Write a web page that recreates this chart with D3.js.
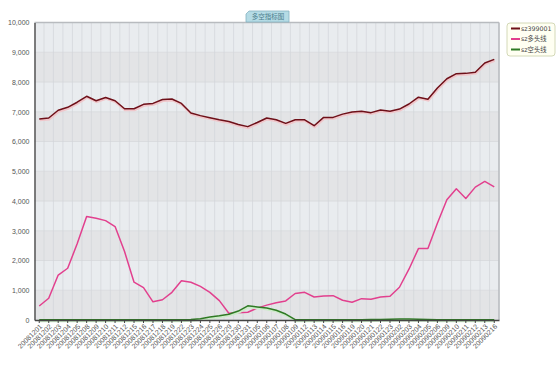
<!DOCTYPE html>
<html>
<head>
<meta charset="utf-8">
<script src="https://cdn.jsdelivr.net/npm/d3@7"></script>
<style>
  body { margin: 0; background: #fff; }
  svg { display: block; font-family: "DejaVu Sans", "Noto Sans CJK SC", sans-serif; }
</style>
</head>
<body>
<svg id="chart" width="560" height="369"></svg>
<script>
var dates = ['20081201','20081202','20081203','20081204','20081205','20081208','20081209','20081210',
    '20081211','20081212','20081215','20081216','20081217','20081218','20081219','20081222','20081223',
    '20081224','20081225','20081226','20081229','20081230','20081231','20090105','20090106','20090107',
    '20090108','20090109','20090112','20090113','20090114','20090115','20090116','20090119','20090120',
    '20090121','20090122','20090123','20090202','20090203','20090204','20090205','20090206','20090209',
    '20090210','20090211','20090212','20090213','20090216'];

var indexLine = [6760, 6790, 7050, 7150, 7320, 7520, 7370, 7480, 7370, 7100, 7100, 7250, 7280, 7410, 7430,
    7280, 6960, 6870, 6800, 6730, 6670, 6570, 6500, 6640, 6790, 6730, 6610, 6730, 6730, 6530, 6810,
    6810, 6920, 6990, 7020, 6970, 7060, 7020, 7090, 7260, 7490, 7420, 7800, 8110, 8280, 8290, 8330,
    8640, 8760];

var longLine = [470, 730, 1510, 1740, 2560, 3480, 3420, 3340, 3140, 2300, 1270, 1090, 610, 680, 930,
    1320, 1270, 1130, 930, 650, 225, 240, 260, 400, 500, 583, 640, 890, 930, 774, 808, 818, 663, 596,
    717, 697, 774, 798, 1100, 1707, 2400, 2400, 3255, 4040, 4410, 4085, 4467, 4657, 4478];

var shortLine = [10, 10, 10, 5, 5, 5, 5, 5, 5, 5, 5, 5, 5, 5, 5, 10, 20, 45, 100, 140, 195, 300, 475,
    440, 400, 330, 200, 10, 10, 10, 10, 10, 10, 10, 10, 15, 20, 25, 30, 30, 25, 20, 10, 5, 5, 5, 5, 5, 5];

var yTicks = [0, 1000, 2000, 3000, 4000, 5000, 6000, 7000, 8000, 9000, 10000];

var series = [
    { name: 'sz399001', values: indexLine, color: '#6e1019', glow: '#f0c6ca' },
    { name: 'sz多头线', values: longLine, color: '#e2408e', glow: null },
    { name: 'sz空头线', values: shortLine, color: '#2f7a24', glow: '#cdebc9' }
];

function drawChart() {
    var svg = d3.select('#chart');
    var left = 34.5, right = 499, plotTop = 22.5, bottom = 320;

    var x = d3.scaleBand().domain(dates).range([left, right]);
    var y = d3.scaleLinear().domain([0, 10000]).range([bottom, plotTop]);

    var g = svg.append('g');

    // alternating horizontal bands
    g.selectAll('rect.band')
        .data(yTicks.slice(0, -1))
        .enter().append('rect')
        .attr('class', 'band')
        .attr('x', left)
        .attr('width', right - left)
        .attr('y', function(d) { return y(d + 1000); })
        .attr('height', function(d) { return y(d) - y(d + 1000); })
        .attr('fill', function(d, i) { return i % 2 == 0 ? '#e3e4e6' : '#e9ecef'; });

    // horizontal grid
    g.selectAll('line.hgrid')
        .data(yTicks)
        .enter().append('line')
        .attr('x1', left).attr('x2', right)
        .attr('y1', function(d) { return y(d); })
        .attr('y2', function(d) { return y(d); })
        .attr('stroke', '#d6d8db')
        .attr('stroke-width', 0.8);

    // vertical grid at each category edge
    g.selectAll('line.vgrid')
        .data(dates)
        .enter().append('line')
        .attr('x1', function(d) { return x(d) + x.bandwidth(); })
        .attr('x2', function(d) { return x(d) + x.bandwidth(); })
        .attr('y1', plotTop).attr('y2', bottom)
        .attr('stroke', '#d3d6da')
        .attr('stroke-width', 0.7);

    // frame
    g.append('line').attr('x1', left).attr('x2', right).attr('y1', plotTop).attr('y2', plotTop)
        .attr('stroke', '#b8bbbf').attr('stroke-width', 1.5);
    g.append('line').attr('x1', right).attr('x2', right).attr('y1', plotTop).attr('y2', bottom)
        .attr('stroke', '#b8bbbf').attr('stroke-width', 1.5);

    // lines
    var line = function(vals) {
        return d3.line()
            .x(function(d, i) { return x(dates[i]) + x.bandwidth() / 2; })
            .y(function(d) { return y(d); })(vals);
    };

    series.forEach(function(s) {
        if (s.glow) {
            g.append('path')
                .attr('d', line(s.values))
                .attr('transform', 'translate(0.5,1.2)')
                .attr('fill', 'none')
                .attr('stroke', s.glow)
                .attr('stroke-width', 2.5);
        }
        g.append('path')
            .attr('d', line(s.values))
            .attr('fill', 'none')
            .attr('stroke', s.color)
            .attr('stroke-width', 1.5)
            .attr('stroke-linejoin', 'round');
    });

    // y axis
    var yAxis = svg.append('g')
        .attr('transform', 'translate(' + left + ',0)')
        .call(d3.axisLeft(y).tickValues(yTicks).tickFormat(d3.format(',')).tickSize(0).tickPadding(5));
    yAxis.select('.domain').attr('stroke', '#555').attr('stroke-width', 1.5);
    yAxis.selectAll('text').attr('font-size', '7px').attr('fill', '#555');

    // x axis
    var xAxis = svg.append('g')
        .attr('transform', 'translate(0,' + bottom + ')')
        .call(d3.axisBottom(x).tickSize(3).tickSizeOuter(0));
    xAxis.select('.domain').attr('stroke', '#444').attr('stroke-width', 1.5);
    xAxis.selectAll('.tick line').attr('stroke', '#444');
    xAxis.selectAll('text')
        .attr('font-size', '7px')
        .attr('fill', '#555')
        .attr('text-anchor', 'end')
        .attr('y', 0)
        .attr('dy', '0')
        .attr('transform', 'translate(3.5,7) rotate(-45)');

    // title tab
    var tab = svg.append('g').attr('transform', 'translate(246,11)');
    tab.append('path')
        .attr('d', 'M0,11 L0,3 L3,0 L43,0 L43,11 Z')
        .attr('fill', '#b5dbe5')
        .attr('stroke', '#86b3c2')
        .attr('stroke-width', 0.8);
    tab.append('text')
        .attr('x', 22).attr('y', 8)
        .attr('text-anchor', 'middle')
        .attr('font-size', '6.5px')
        .attr('fill', '#4a7d8c')
        .text('多空指标图');

    // legend
    var legend = svg.append('g').attr('transform', 'translate(507,23)');
    legend.append('rect')
        .attr('width', 48).attr('height', 33)
        .attr('rx', 3)
        .attr('fill', '#fffff2')
        .attr('stroke', '#c9cfa8')
        .attr('stroke-width', 0.8);
    var item = legend.selectAll('g.item')
        .data(series)
        .enter().append('g')
        .attr('transform', function(d, i) { return 'translate(4,' + (5.5 + i * 10.5) + ')'; });
    item.append('line')
        .attr('x1', 0).attr('x2', 9)
        .attr('stroke', function(d) { return d.color; })
        .attr('stroke-width', 2);
    item.append('text')
        .attr('x', 10).attr('y', 2.3)
        .attr('font-size', '6.3px')
        .attr('fill', '#444')
        .text(function(d) { return d.name; });
}

drawChart();
</script>
</body>
</html>
